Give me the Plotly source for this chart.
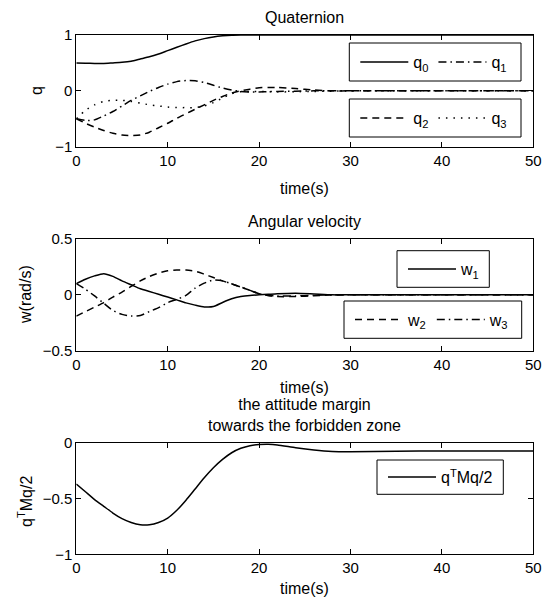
import plotly.graph_objects as go

# ---------------- data ----------------
t = [0, 1, 2, 3, 4, 5, 6, 7, 8, 9, 10, 11, 12, 13, 14, 15, 16, 17, 18, 19, 20,
     21, 22, 24, 26, 28, 30, 35, 40, 45, 50]

q0 = [0.50, 0.495, 0.49, 0.49, 0.50, 0.51, 0.53, 0.57, 0.61, 0.66, 0.72, 0.78, 0.84,
      0.895, 0.935, 0.965, 0.985, 0.997, 1.0, 1.0, 1.0,
      1.0, 1.0, 1.0, 1.0, 1.0, 1.0, 1.0, 1.0, 1.0, 1.0]
q1 = [-0.50, -0.53, -0.52, -0.45, -0.37, -0.27, -0.17, -0.09, -0.01, 0.06, 0.12, 0.165, 0.185,
      0.18, 0.15, 0.10, 0.05, 0.015, -0.01, -0.02, -0.02,
      -0.015, -0.01, -0.005, 0.0, 0.0, 0.0, 0.0, 0.0, 0.0, 0.0]
q2 = [-0.50, -0.58, -0.65, -0.71, -0.76, -0.79, -0.80, -0.79, -0.74, -0.66, -0.58, -0.49, -0.41,
      -0.33, -0.25, -0.17, -0.10, -0.04, 0.0, 0.03, 0.055,
      0.06, 0.06, 0.04, 0.015, 0.0, 0.0, 0.0, 0.0, 0.0, 0.0]
q3 = [-0.50, -0.35, -0.25, -0.19, -0.17, -0.17, -0.19, -0.22, -0.25, -0.27, -0.29, -0.30, -0.30,
      -0.30, -0.27, -0.21, -0.13, -0.05, -0.015, -0.01, -0.01,
      -0.015, -0.02, -0.015, -0.01, -0.005, 0.0, 0.0, 0.0, 0.0, 0.0]

w1 = [0.10, 0.14, 0.17, 0.19, 0.165, 0.125, 0.09, 0.055, 0.03, 0.005, -0.02, -0.045, -0.072,
      -0.092, -0.108, -0.105, -0.068, -0.035, -0.015, -0.005, 0.0,
      0.005, 0.01, 0.015, 0.008, 0.0, 0.0, 0.0, 0.0, 0.0, 0.0]
w2 = [-0.19, -0.15, -0.11, -0.07, -0.02, 0.025, 0.075, 0.125, 0.165, 0.195, 0.215, 0.222, 0.222,
      0.212, 0.185, 0.155, 0.125, 0.098, 0.07, 0.04, 0.01,
      -0.005, -0.015, -0.015, -0.008, 0.0, 0.0, 0.0, 0.0, 0.0, 0.0]
w3 = [0.10, 0.05, -0.01, -0.075, -0.14, -0.175, -0.19, -0.185, -0.15, -0.115, -0.07, -0.04, -0.005,
      0.06, 0.105, 0.133, 0.125, 0.098, 0.07, 0.04, 0.01,
      -0.005, -0.01, -0.01, -0.005, 0.0, 0.0, 0.0, 0.0, 0.0, 0.0]

margin = [-0.37, -0.44, -0.51, -0.57, -0.63, -0.68, -0.715, -0.735, -0.735, -0.715, -0.675, -0.605, -0.515,
          -0.415, -0.315, -0.225, -0.15, -0.09, -0.05, -0.027, -0.017,
          -0.015, -0.02, -0.045, -0.065, -0.078, -0.08, -0.076, -0.075, -0.075, -0.075]

x_ticks = [0, 10, 20, 30, 40, 50]
y1_ticks = [-1, 0, 1]
y2_ticks = [-0.5, 0, 0.5]
y3_ticks = [-1, -0.5, 0]

# ---------------- figure ----------------
W, H = 542, 598
FONT = "Liberation Sans, Arial, sans-serif"
FS = 15
FT = 16

def px_x(p):
    return p / W

def px_y(p):
    return 1 - p / H

DASH = {"solid": "solid", "dash": "7px,5px", "dot": "1.5px,6px", "dashdot": "8px,4px,1.5px,4px"}

fig = go.Figure()

def line(x, y, name, style, xa, ya, legend):
    fig.add_trace(go.Scatter(
        x=x, y=y, name=name, mode="lines",
        line=dict(color="black", width=1.5, dash=DASH[style], shape="spline", smoothing=0.6),
        xaxis=xa, yaxis=ya, legend=legend, showlegend=True, hoverinfo="skip"))

line(t, q0, "q<sub>0</sub>", "solid", "x", "y", "legend")
line(t, q1, "q<sub>1</sub>", "dashdot", "x", "y", "legend")
line(t, q2, "q<sub>2</sub>", "dash", "x", "y", "legend2")
line(t, q3, "q<sub>3</sub>", "dot", "x", "y", "legend2")
line(t, w1, "w<sub>1</sub>", "solid", "x2", "y2", "legend3")
line(t, w2, "w<sub>2</sub>", "dash", "x2", "y2", "legend4")
line(t, w3, "w<sub>3</sub>", "dashdot", "x2", "y2", "legend4")
line(t, margin, "q<sup>T</sup>Mq/2", "solid", "x3", "y3", "legend5")

xdom = [px_x(76.3), px_x(533.3)]
doms = [(35, 146.7), (239, 350.7), (442.7, 554.3)]
yranges = [[-1, 1], [-0.5, 0.5], [-1, 0]]
yticks = [y1_ticks, y2_ticks, y3_ticks]

axcommon = dict(showline=True, linecolor="black", linewidth=1, mirror="allticks",
                ticks="inside", ticklen=5, tickcolor="black", showgrid=False,
                zeroline=False, automargin=False, ticklabeloverflow="allow",
                tickfont=dict(family=FONT, size=FS, color="black"))

for i in range(3):
    sx = "" if i == 0 else str(i + 1)
    top, bot = doms[i]
    fig.update_layout({
        f"xaxis{sx}": dict(domain=xdom, range=[0, 50], tickvals=x_ticks,
                           anchor=f"y{sx}", **axcommon),
        f"yaxis{sx}": dict(domain=[px_y(bot), px_y(top)], range=yranges[i],
                           tickvals=yticks[i], anchor=f"x{sx}", **axcommon),
    })

# legend boxes (left, top, right, bottom) in page pixels
boxes = [(349.3, 43, 521, 81), (349.3, 99, 521, 137), (397, 250.7, 489.3, 287.3),
         (344, 301, 521.7, 338.3), (377, 460, 503.3, 494.3)]
shapes = []
legends = {}
names = ["legend", "legend2", "legend3", "legend4", "legend5"]
for nm, (l, tp, r, b) in zip(names, boxes):
    shapes.append(dict(type="rect", xref="paper", yref="paper",
                       x0=px_x(l), x1=px_x(r), y0=px_y(b), y1=px_y(tp),
                       line=dict(color="black", width=1), fillcolor="white", layer="above"))
    legends[nm] = dict(x=px_x(l + 6), y=px_y((tp + b) / 2), xanchor="left", yanchor="middle",
                       orientation="h", bgcolor="rgba(0,0,0,0)", borderwidth=0,
                       font=dict(family=FONT, size=FT, color="black"), itemwidth=48,
                       xref="paper", yref="paper")
fig.update_layout(**legends)

ann = []
cx = px_x((76.3 + 533.3) / 2)
def text(x, y, s, angle=0):
    ann.append(dict(x=x, y=y, xref="paper", yref="paper", text=s, showarrow=False,
                    textangle=angle, xanchor="center", yanchor="middle",
                    font=dict(family=FONT, size=FT, color="black")))

text(cx, px_y(18), "Quaternion")
text(cx, px_y(222), "Angular velocity")
text(cx, px_y(415), "the attitude margin<br>towards the forbidden zone")
text(cx, px_y(188), "time(s)")
text(cx, px_y(387), "time(s)")
text(cx, px_y(588), "time(s)")
text(px_x(36), px_y(91), "q", -90)
text(px_x(25), px_y(295), "w(rad/s)", -90)
text(px_x(25), px_y(502), "q<sup>T</sup>Mq/2", -90)

fig.update_layout(
    width=W, height=H, margin=dict(l=0, r=0, t=0, b=0),
    paper_bgcolor="white", plot_bgcolor="white", hovermode=False,
    annotations=ann, shapes=shapes, font=dict(family=FONT, size=FS, color="black"),
)

fig.write_html("out.html", config={"displayModeBar": False},
               post_script="document.body.style.margin='0';document.body.style.overflow='hidden';")
